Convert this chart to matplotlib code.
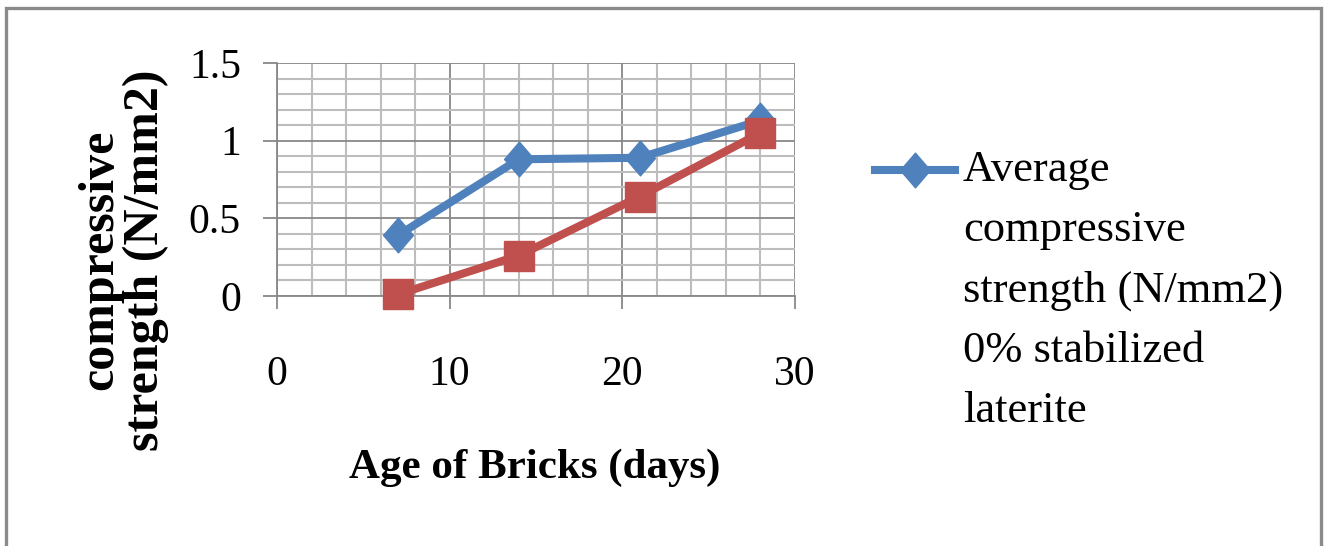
import matplotlib.pyplot as plt
from matplotlib.lines import Line2D
from matplotlib.patches import Rectangle
from matplotlib.path import Path

# Compressive strength of laterite bricks against curing age
age_days = [7, 14, 21, 28]
avg_strength = [0.39, 0.88, 0.89, 1.13]
stabilized_0 = [0.01, 0.26, 0.64, 1.05]

x_ticks = [0, 10, 20, 30]
y_ticks = [0, 0.5, 1, 1.5]
legend_label = "Average\ncompressive\nstrength (N/mm2)\n0% stabilized\nlaterite"

BLUE = "#4F81BD"
RED = "#C0504D"

plt.rcParams['font.family'] = ['Liberation Serif', 'DejaVu Serif']

# slightly tall diamond like the spreadsheet marker
diamond = Path([(0, 1), (0.86, 0), (0, -1), (-0.86, 0), (0, 1)],
               [Path.MOVETO, Path.LINETO, Path.LINETO, Path.LINETO, Path.CLOSEPOLY])

W, H = 1325, 546
fig = plt.figure(figsize=(W / 100, H / 100), dpi=100)
ax = fig.add_axes([277 / W, 1 - 296 / H, (795 - 277) / W, (296 - 63) / H])

# chart frame (bottom edge falls outside the image)
fig.patches.append(Rectangle((6 / W, -0.2), (1321 - 6) / W, 1.2 - 8 / H,
                             transform=fig.transFigure, fill=False,
                             edgecolor="#8a8a8a", linewidth=2.4))

ax.plot(age_days, avg_strength, color=BLUE, linewidth=5.8,
        marker=diamond, markersize=25, clip_on=False, zorder=3)
ax.plot(age_days, stabilized_0, color=RED, linewidth=5.8,
        marker='s', markersize=21, clip_on=False, zorder=4)

ax.set_xlim(0, 30)
ax.set_ylim(0, 1.5)
ax.set_xticks(x_ticks)
ax.set_yticks(y_ticks)
ax.set_xticklabels([str(t) for t in x_ticks])
ax.set_yticklabels(["0", "0.5", "1", "1.5"])
ax.set_xticks(range(0, 31, 2), minor=True)
ax.set_yticks([i / 10 for i in range(16)], minor=True)

ax.grid(which='minor', color="#bdbdbd", linewidth=1.5)
ax.grid(which='major', color="#888888", linewidth=1.3)
ax.set_axisbelow(True)

for side in ['top', 'right']:
    ax.spines[side].set_visible(False)
for side in ['left', 'bottom']:
    ax.spines[side].set_color("#888888")
    ax.spines[side].set_linewidth(1.3)

ax.tick_params(axis='x', which='major', direction='out', length=9, width=1.3,
               color="#888888", labelsize=30, pad=34)
ax.tick_params(axis='y', which='major', direction='out', length=10, width=1.3,
               color="#888888", labelsize=30, pad=16)
ax.tick_params(which='minor', length=0)

fig.text(535 / W, 1 - 468 / H, "Age of Bricks (days)", fontsize=31,
         fontweight='bold', ha='center', va='center')
fig.text(123 / W, 1 - 260 / H, "compressive\nstrength (N/mm2)", fontsize=36,
         fontweight='bold', rotation=90, ha='center', va='center',
         multialignment='center', linespacing=1.0)

# legend entry (only the blue series has a key)
fig.lines.append(Line2D([875 / W, 955 / W], [1 - 170 / H] * 2,
                        transform=fig.transFigure, color=BLUE, linewidth=5.8))
fig.lines.append(Line2D([915 / W], [1 - 170 / H], transform=fig.transFigure,
                        color=BLUE, marker=diamond, markersize=25, linestyle='none'))
fig.text(963 / W, 1 - 150 / H, legend_label, fontsize=32, ha='left', va='top',
         linespacing=1.65)

fig.savefig("out.png", dpi=100)
